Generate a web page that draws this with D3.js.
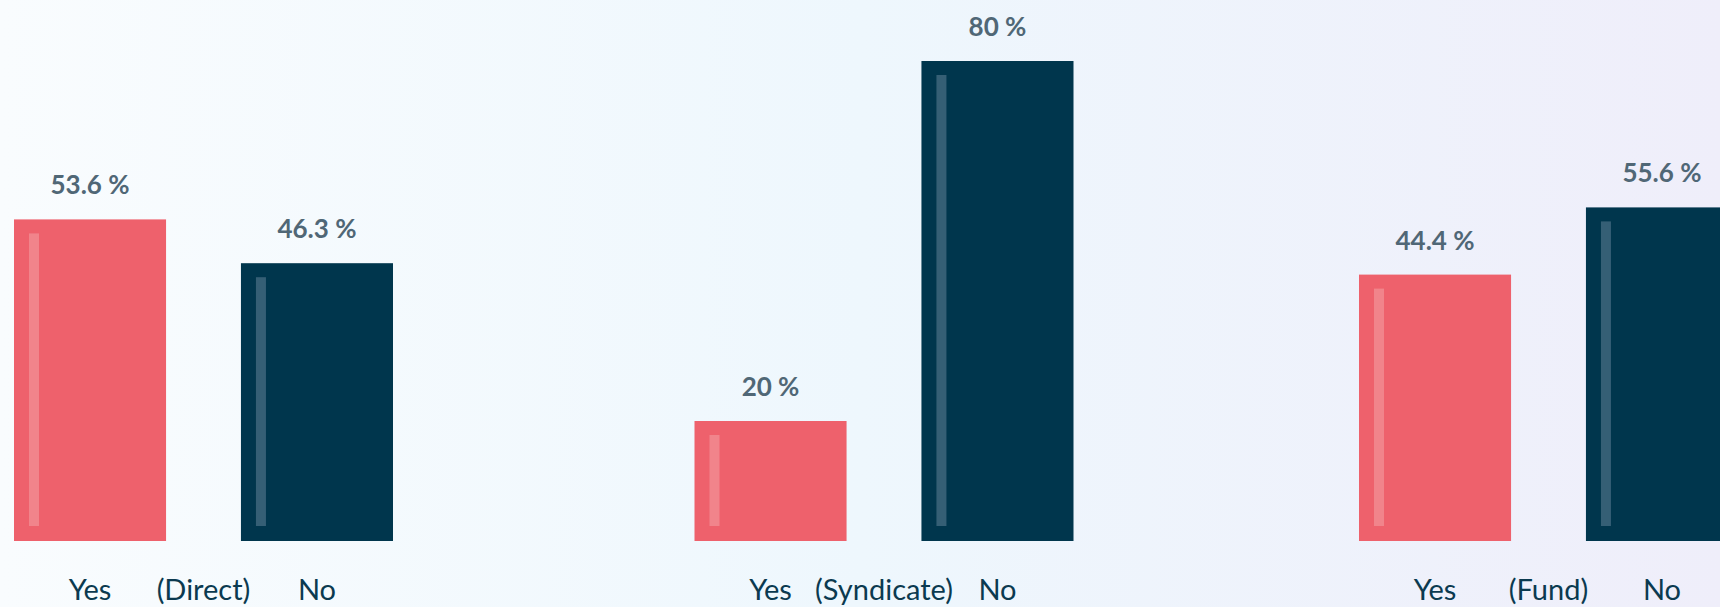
<!DOCTYPE html>
<html>
<head>
<meta charset="utf-8">
<script src="https://cdn.jsdelivr.net/npm/d3@7"></script>
<style>
  body { margin: 0; overflow: hidden; }
</style>
</head>
<body>
<div id="chart"></div>
<script>
// data
var groups = ["(Direct)", "(Syndicate)", "(Fund)"];
var answers = ["Yes", "No"];
var yesValues = [53.6, 20, 44.4];
var noValues = [46.3, 80, 55.6];
var valueLabels = [["53.6 %", "46.3 %"], ["20 %", "80 %"], ["44.4 %", "55.6 %"]];

var width = 1720,
  height = 607;

var svg = d3.select("#chart")
  .append("svg")
  .attr("width", width)
  .attr("height", height);

// background gradient
var grad = svg.append("defs")
  .append("linearGradient")
  .attr("id", "bg")
  .attr("x1", "0%").attr("x2", "100%")
  .attr("y1", "0%").attr("y2", "0%");
grad.append("stop").attr("offset", "0%").attr("stop-color", "#f9fcfe");
grad.append("stop").attr("offset", "50%").attr("stop-color", "#eef7fd");
grad.append("stop").attr("offset", "100%").attr("stop-color", "#efeefa");

svg.append("rect")
  .attr("width", width)
  .attr("height", height)
  .attr("fill", "url(#bg)");

var colors = { "Yes": "#ee616c", "No": "#00364d" };
var stripeColors = { "Yes": "#f1848b", "No": "#355f75" };

// scales (the three panels are not evenly spaced in the original)
var x0 = d3.scaleOrdinal()
  .domain(groups)
  .range([203.5, 884, 1548.5]);

var x1 = d3.scaleBand()
  .domain(answers)
  .range([-189.5, 189.5])
  .paddingInner(0.33);

var y = d3.scaleLinear()
  .domain([0, 100])
  .range([541, -59]);

var rows = [];
groups.forEach(function(g, i) {
  rows.push({ group: g, answer: "Yes", value: yesValues[i], label: valueLabels[i][0] });
  rows.push({ group: g, answer: "No", value: noValues[i], label: valueLabels[i][1] });
});

var bars = svg.selectAll(".bar")
  .data(rows)
  .enter()
  .append("g")
  .attr("class", "bar")
  .attr("transform", function(d) {
    return "translate(" + (x0(d.group) + x1(d.answer)) + ",0)";
  });

bars.append("rect")
  .attr("x", 0)
  .attr("y", function(d) { return y(d.value); })
  .attr("width", x1.bandwidth())
  .attr("height", function(d) { return y(0) - y(d.value); })
  .attr("fill", function(d) { return colors[d.answer]; });

// light stripe inside each bar
bars.append("rect")
  .attr("x", 15)
  .attr("y", function(d) { return y(d.value) + 14; })
  .attr("width", 10)
  .attr("height", function(d) { return y(0) - y(d.value) - 29; })
  .attr("fill", function(d) { return stripeColors[d.answer]; });

bars.append("text")
  .attr("x", x1.bandwidth() / 2)
  .attr("y", function(d) { return y(d.value) - 25; })
  .attr("text-anchor", "middle")
  .style("font-family", "Lato, sans-serif")
  .style("font-weight", 700)
  .style("font-size", "26px")
  .style("fill", "#506776")
  .text(function(d) { return d.label; });

// category labels
var labelStyle = function(sel) {
  sel.attr("text-anchor", "middle")
    .style("font-family", "Lato, sans-serif")
    .style("font-weight", 400)
    .style("font-size", "29px")
    .style("fill", "#0b3a50");
};

bars.append("text")
  .attr("x", x1.bandwidth() / 2)
  .attr("y", 600)
  .call(labelStyle)
  .text(function(d) { return d.answer; });

svg.selectAll(".group-label")
  .data(groups)
  .enter()
  .append("text")
  .attr("class", "group-label")
  .attr("x", function(d) { return x0(d); })
  .attr("y", 600)
  .call(labelStyle)
  .text(function(d) { return d; });
</script>
</body>
</html>
